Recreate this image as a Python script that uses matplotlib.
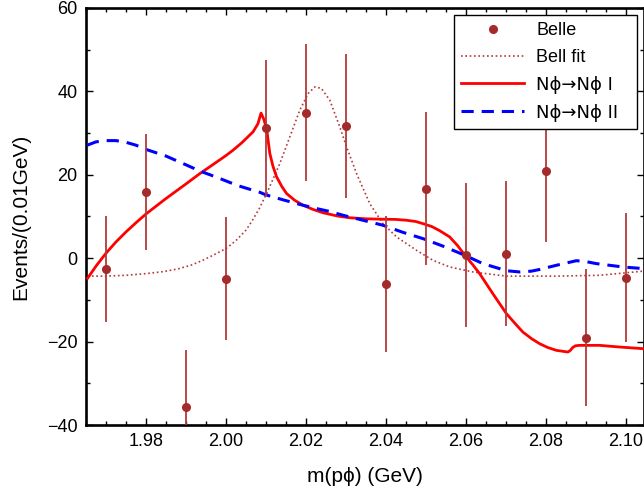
import matplotlib
matplotlib.use("Agg")
import matplotlib.pyplot as plt
from matplotlib.ticker import MultipleLocator, FormatStrFormatter, FuncFormatter

plt.rcParams['font.family'] = ['Liberation Sans', 'DejaVu Sans']

# Belle data points
mass = [1.97, 1.98, 1.99, 2.00, 2.01, 2.02, 2.03, 2.04, 2.05, 2.06, 2.07, 2.08, 2.09, 2.10]
events = [-2.6, 15.9, -35.7, -4.9, 31.2, 34.9, 31.7, -6.2, 16.7, 0.7, 1.1, 20.9, -19.1, -4.7]
errors = [12.6, 14.0, 13.6, 14.8, 16.3, 16.4, 17.2, 16.4, 18.4, 17.3, 17.3, 17.0, 16.4, 15.5]

# Bell fit (dotted)
bell_x = [1.9654, 1.970, 1.975, 1.980, 1.9845, 1.9883, 1.9915, 1.9942, 1.997, 2.000,
          2.0025, 2.005, 2.0064, 2.0083, 2.0102, 2.012, 2.0135, 2.016, 2.0185, 2.0206,
          2.0223, 2.0239, 2.026, 2.0285, 2.0302, 2.0327, 2.036, 2.0393, 2.0427, 2.0477,
          2.0518, 2.056, 2.0618, 2.0702, 2.0827, 2.0935, 2.1045]
bell_y = [-4.3, -4.3, -4.1, -3.7, -3.2, -2.5, -1.6, -0.5, 0.8, 2.3,
          4.2, 6.7, 8.7, 11.8, 15.5, 19.4, 22.7, 29.1, 35.5, 39.5,
          41.1, 40.7, 37.9, 31.5, 26.7, 20.3, 13.1, 8.3, 5.1, 1.9,
          -0.5, -2.1, -3.3, -4.3, -4.3, -4.1, -3.1]

# N phi -> N phi I (solid red)
m1_x = [1.9654, 1.9675, 1.970, 1.9725, 1.975, 1.9775, 1.980, 1.985, 1.990, 1.9935,
        1.997, 2.000, 2.0018, 2.004, 2.0068, 2.008, 2.0088, 2.0095, 2.0102, 2.011,
        2.0118, 2.0127, 2.014, 2.0152, 2.0172, 2.0193, 2.0218, 2.0243, 2.028, 2.031,
        2.035, 2.0393, 2.0425, 2.0452, 2.0475, 2.0493, 2.0515, 2.0535, 2.056, 2.058,
        2.0598, 2.0618, 2.0635, 2.0668, 2.0702, 2.0725, 2.0743, 2.0765, 2.0785, 2.0805,
        2.0827, 2.0856, 2.0862, 2.0868, 2.0875, 2.0885, 2.0935, 2.0985, 2.1045]
m1_y = [-4.8, -1.9, 1.2, 3.9, 6.3, 8.5, 10.6, 14.3, 17.8, 20.3,
        22.6, 24.6, 25.9, 27.7, 30.3, 32.2, 34.8, 33.3, 31.0, 25.1,
        22.0, 19.5, 17.2, 15.5, 13.9, 12.7, 11.7, 10.9, 10.1, 9.7,
        9.45, 9.35, 9.3, 9.1, 8.8, 8.3, 7.6, 6.6, 5.1, 3.0,
        0.7, -1.6, -3.7, -8.5, -13.3, -15.8, -17.7, -19.3, -20.5, -21.4,
        -22.1, -22.5, -22.1, -21.4, -21.0, -20.9, -20.9, -21.3, -21.7]

# N phi -> N phi II (dashed blue)
m2_x = [1.9653, 1.9675, 1.970, 1.9725, 1.975, 1.9775, 1.980, 1.985, 1.990, 1.9935,
        1.998, 2.003, 2.0085, 2.010, 2.0143, 2.0185, 2.0227, 2.026, 2.0293, 2.0343,
        2.0393, 2.0443, 2.0493, 2.0543, 2.0598, 2.0643, 2.0702, 2.0735, 2.0765, 2.0785,
        2.0827, 2.0877, 2.090, 2.0927, 2.0993, 2.1045]
m2_y = [27.1, 27.9, 28.2, 28.2, 27.8, 27.1, 26.1, 24.5, 22.4, 20.9,
        19.3, 17.4, 15.8, 15.2, 14.0, 12.9, 11.9, 11.2, 10.3, 9.1,
        7.9, 6.2, 4.7, 2.9, 0.7, -1.3, -3.0, -3.3, -3.1, -2.7,
        -1.7, -0.6, -0.8, -1.3, -2.1, -2.5]

lab_belle = "Belle"
lab_bell = "Bell fit"
lab_m1 = "N\u03d5\u2192N\u03d5 I"
lab_m2 = "N\u03d5\u2192N\u03d5 II  "  # trailing spaces widen the box like the original

fig = plt.figure(figsize=(6.44, 4.93), dpi=100)
ax = fig.add_axes([86 / 644, 1 - 425 / 493, 557.5 / 644, 417 / 493])

l_bell, = ax.plot(bell_x, bell_y, linestyle=(0, (1, 1.6)), color="#b23a3a", lw=1.2, zorder=2)
l_m1, = ax.plot(m1_x, m1_y, color="#ff0000", lw=2.0, zorder=3)
l_m2, = ax.plot(m2_x, m2_y, color="#0000ff", lw=2.2, dashes=(4.0, 2.6), zorder=3)
ax.errorbar(mass, events, yerr=errors, fmt="none", ecolor="#b03a3a", elinewidth=1.3, zorder=4)
l_belle, = ax.plot(mass, events, "o", color="#a52a2a", ms=5.5, zorder=5)

ax.set_xlim(1.965, 2.1045)
ax.set_ylim(-40, 60)
ax.xaxis.set_major_locator(MultipleLocator(0.02))
ax.xaxis.set_minor_locator(MultipleLocator(0.005))
ax.yaxis.set_major_locator(MultipleLocator(20))
ax.yaxis.set_minor_locator(MultipleLocator(10))
ax.xaxis.set_major_formatter(FormatStrFormatter("%.2f"))
ax.yaxis.set_major_formatter(FuncFormatter(lambda v, p: f"{int(v)}".replace("-", "\u2212")))

ax.tick_params(which="both", direction="in", top=True, right=True, labelsize=13, width=1.0)
ax.tick_params(which="major", length=5, pad=6)
ax.tick_params(which="minor", length=3)
for s in ax.spines.values():
    s.set_linewidth(1.9)

ax.set_xlabel("m(p\u03d5) (GeV)", fontsize=15, labelpad=12)
ax.set_ylabel("Events/(0.01GeV)", fontsize=15, labelpad=12)

leg = ax.legend([l_belle, l_bell, l_m1, l_m2], [lab_belle, lab_bell, lab_m1, lab_m2],
                loc="upper right", fontsize=13, frameon=True, fancybox=False,
                edgecolor="black", framealpha=1, handlelength=3.5, handletextpad=0.65,
                labelspacing=0.55, borderpad=0.38, bbox_to_anchor=(0.9875, 0.983),
                borderaxespad=0)
leg.get_frame().set_linewidth(1.0)
leg.set_zorder(10)
# Liberation's arrow is tiny, take the arrow from DejaVu for the two model labels
for t in leg.get_texts()[2:]:
    t.set_fontfamily("DejaVu Sans")

fig.savefig("out.png", dpi=100)
